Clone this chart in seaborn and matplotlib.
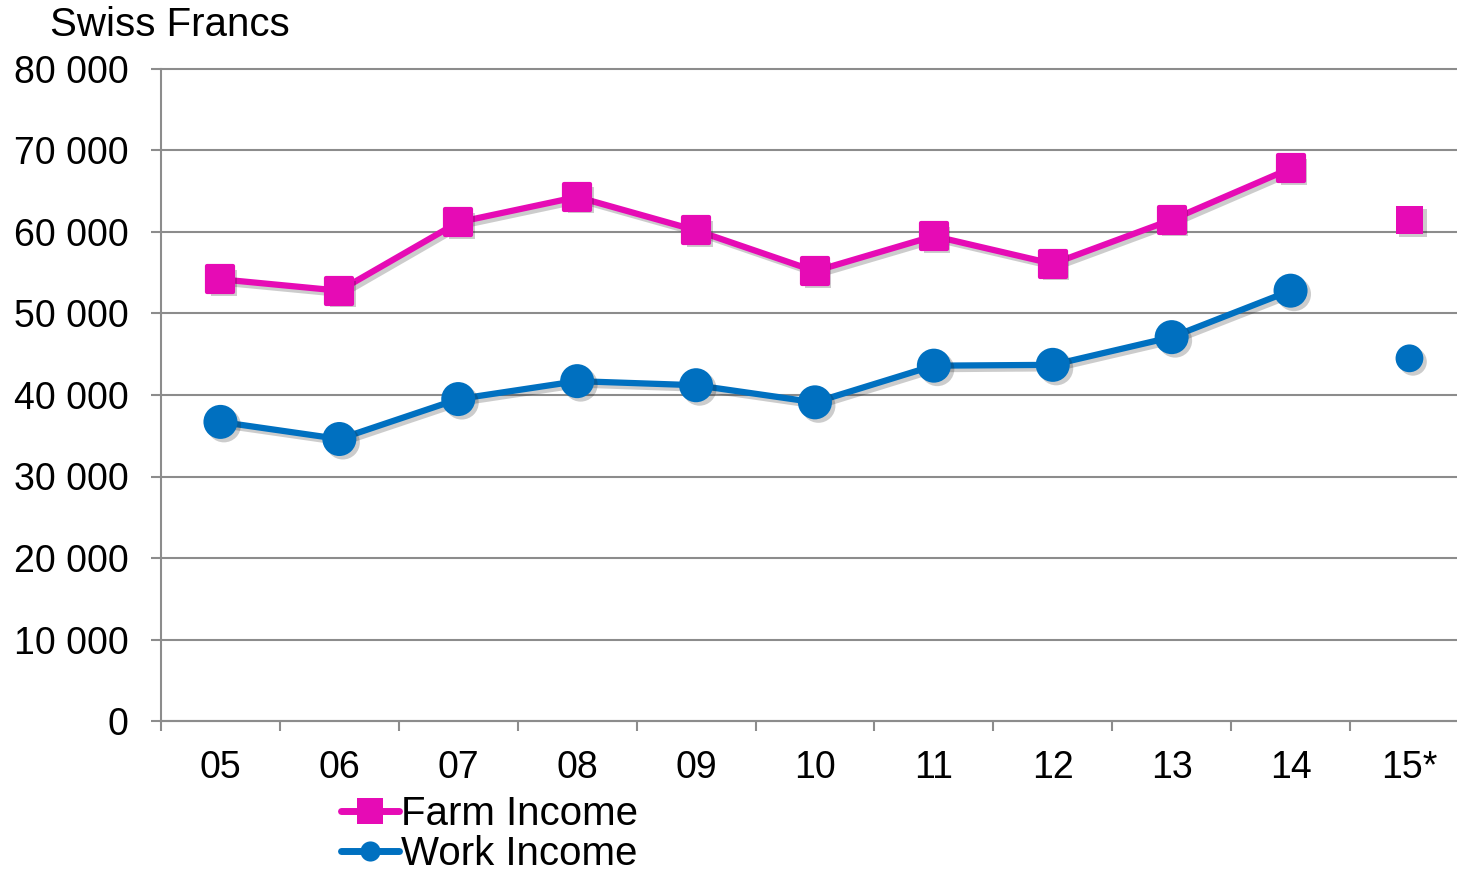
import matplotlib
matplotlib.use("Agg")
import matplotlib.pyplot as plt
from matplotlib import patheffects as pe
from matplotlib.lines import Line2D
import numpy as np
import pandas as pd
import seaborn as sns

# Average income per farm, Swiss Francs (15* = estimate)
years = ["05", "06", "07", "08", "09", "10", "11", "12", "13", "14", "15*"]
farm_income = [54200, 52800, 61200, 64300, 60200, 55200, 59500, 56100, 61500, 67800, 61500]
work_income = [36700, 34600, 39500, 41700, 41200, 39100, 43600, 43700, 47100, 52800, 44500]
y_ticks = [0, 10000, 20000, 30000, 40000, 50000, 60000, 70000, 80000]

PINK = "#E60BB5"
BLUE = "#0070C0"
GRID = "#8C8C8C"
FS = 27
FS_BIG = 29

sns.set_theme(style="white")
plt.rcParams["font.family"] = ["Liberation Sans", "DejaVu Sans"]
plt.rcParams["text.color"] = "black"

df = pd.DataFrame({"pos": np.arange(len(years)), "year": years,
                   "Farm Income": farm_income, "Work Income": work_income})
connected = df.iloc[:-1]
estimate = df.iloc[-1:]

W, H = 1457, 875
fig = plt.figure(figsize=(W / 100, H / 100), dpi=100)
ax_left, ax_right = 161, 161 + 11 * 118.9
ax = fig.add_axes([ax_left / W, 1 - 721 / H, (ax_right - ax_left) / W, (721 - 69) / H])

shadow_line = pe.SimpleLineShadow(offset=(2.5, -2.5), shadow_color="k", alpha=0.22)
shadow_patch = pe.SimplePatchShadow(offset=(2.5, -2.5), shadow_rgbFace="k", alpha=0.22)

# lines through the observed years
sns.lineplot(data=connected, x="pos", y="Farm Income", color=PINK, lw=4.5, ax=ax, zorder=3)
sns.lineplot(data=connected, x="pos", y="Work Income", color=BLUE, lw=4.5, ax=ax, zorder=3)
for ln in ax.lines:
    ln.set_path_effects([shadow_line, pe.Normal()])

# markers
sns.scatterplot(data=connected, x="pos", y="Farm Income", marker="s", s=350,
                color=PINK, edgecolor=PINK, linewidth=3, ax=ax, zorder=4)
sns.scatterplot(data=connected, x="pos", y="Work Income", marker="o", s=600,
                color=BLUE, edgecolor="none", linewidth=0, ax=ax, zorder=4)
sns.scatterplot(data=estimate, x="pos", y="Farm Income", marker="s", s=400,
                color=PINK, edgecolor="none", linewidth=0, ax=ax, zorder=4)
sns.scatterplot(data=estimate, x="pos", y="Work Income", marker="o", s=400,
                color=BLUE, edgecolor="none", linewidth=0, ax=ax, zorder=4)
for coll in ax.collections:
    coll.set_joinstyle("round")
    coll.set_path_effects([shadow_patch, pe.Normal()])

# axes
ax.set_xlim(-0.5, len(years) - 0.5)
ax.set_ylim(0, 80000)
ax.set_xlabel("")
ax.set_ylabel("")

ax.set_yticks(y_ticks)
ax.set_yticklabels([f"{v:,}".replace(",", " ") for v in y_ticks])
ax.tick_params(axis="y", direction="out", length=7.5, width=1.5, color=GRID,
               labelsize=FS, labelcolor="black", pad=16, left=True)

ax.set_xticks(np.arange(-0.5, len(years)), minor=False)
ax.set_xticklabels([])
ax.set_xticks(np.arange(len(years)), minor=True)
ax.set_xticklabels(years, minor=True)
ax.tick_params(axis="x", which="major", direction="out", length=7.5, width=1.5,
               color=GRID, bottom=True)
ax.tick_params(axis="x", which="minor", length=0, labelsize=FS, labelcolor="black",
               pad=21, bottom=True)

ax.yaxis.grid(True, color=GRID, lw=1.5, zorder=0)
ax.xaxis.grid(False)
for g in ax.get_ygridlines():
    g.set_clip_on(False)
for side in ("top", "right"):
    ax.spines[side].set_visible(False)
for side in ("left", "bottom"):
    ax.spines[side].set_color(GRID)
    ax.spines[side].set_linewidth(1.5)
ax.set_axisbelow(True)

fig.text(50 / W, 1 - 25 / H, "Swiss Francs", fontsize=FS_BIG, ha="left", va="center")

handles = [
    Line2D([], [], color=PINK, lw=5, marker="s", markersize=19, markeredgewidth=0,
           solid_capstyle="round"),
    Line2D([], [], color=BLUE, lw=5, marker="o", markersize=14.5, markeredgewidth=0,
           solid_capstyle="round"),
]
fig.legend(handles, ["Farm Income", "Work Income"], loc="upper left",
           bbox_to_anchor=(341 / W, 1 - 795 / H), frameon=False, fontsize=FS_BIG,
           handlelength=1.45, handletextpad=0.05, labelspacing=0.06,
           borderpad=0, borderaxespad=0)

fig.savefig("out.png", dpi=100)
